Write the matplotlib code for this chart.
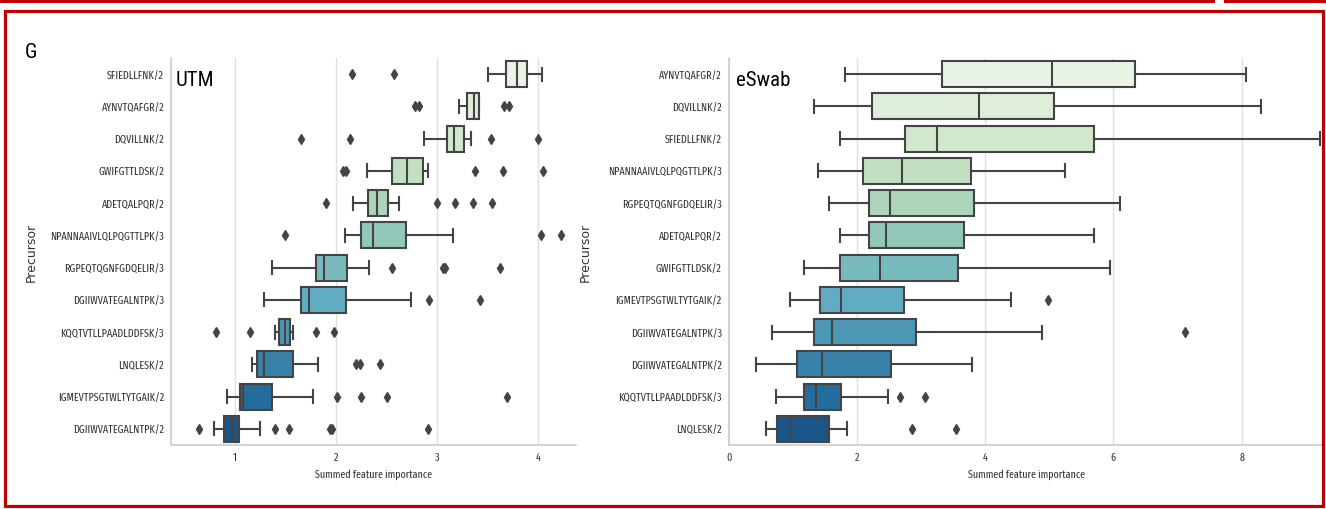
import numpy as np
import matplotlib
matplotlib.use('Agg')
import matplotlib.pyplot as plt
from matplotlib import font_manager
from matplotlib.patches import Rectangle
import seaborn as sns

# ---- UTM: per-precursor box statistics (summed feature importance) ----
utm_labels = ['SFIEDLLFNK/2', 'AYNVTQAFGR/2', 'DQVILLNK/2', 'GWIFGTTLDSK/2',
              'ADETQALPQR/2', 'NPANNAAIVLQLPQGTTLPK/3', 'RGPEQTQGNFGDQELIR/3',
              'DGIIWVATEGALNTPK/3', 'KQQTVTLLPAADLDDFSK/3', 'LNQLESK/2',
              'IGMEVTPSGTWLTYTGAIK/2', 'DGIIWVATEGALNTPK/2']
utm_whislo = [3.51, 3.22, 2.87, 2.31, 2.17, 2.09, 1.37, 1.29, 1.40, 1.17, 0.92, 0.79]
utm_q1 = [3.69, 3.30, 3.10, 2.56, 2.32, 2.25, 1.80, 1.65, 1.44, 1.22, 1.05, 0.89]
utm_med = [3.80, 3.37, 3.17, 2.70, 2.41, 2.37, 1.88, 1.73, 1.50, 1.29, 1.08, 0.97]
utm_q3 = [3.89, 3.42, 3.27, 2.86, 2.52, 2.69, 2.11, 2.10, 1.54, 1.57, 1.37, 1.04]
utm_whishi = [4.04, 3.42, 3.34, 2.91, 2.63, 3.16, 2.33, 2.74, 1.57, 1.82, 1.77, 1.25]
utm_fliers = [
    [2.16, 2.58],
    [2.78, 2.82, 3.67, 3.72],
    [1.65, 2.14, 3.54, 4.00],
    [2.07, 2.10, 3.38, 3.66, 4.05],
    [1.90, 3.00, 3.18, 3.36, 3.55],
    [1.50, 4.03, 4.23],
    [2.56, 3.06, 3.08, 3.63],
    [2.92, 3.43],
    [0.81, 1.15, 1.80, 1.98],
    [2.20, 2.24, 2.44],
    [2.01, 2.25, 2.51, 3.70],
    [0.64, 1.40, 1.53, 1.94, 1.96, 2.91],
]

# ---- eSwab ----
esw_labels = ['AYNVTQAFGR/2', 'DQVILLNK/2', 'SFIEDLLFNK/2', 'NPANNAAIVLQLPQGTTLPK/3',
              'RGPEQTQGNFGDQELIR/3', 'ADETQALPQR/2', 'GWIFGTTLDSK/2',
              'IGMEVTPSGTWLTYTGAIK/2', 'DGIIWVATEGALNTPK/3', 'DGIIWVATEGALNTPK/2',
              'KQQTVTLLPAADLDDFSK/3', 'LNQLESK/2']
esw_whislo = [1.82, 1.33, 1.74, 1.39, 1.56, 1.73, 1.18, 0.95, 0.67, 0.43, 0.74, 0.59]
esw_q1 = [3.33, 2.23, 2.75, 2.10, 2.19, 2.19, 1.73, 1.43, 1.33, 1.07, 1.17, 0.76]
esw_med = [5.04, 3.90, 3.25, 2.71, 2.52, 2.46, 2.36, 1.76, 1.61, 1.45, 1.36, 0.96]
esw_q3 = [6.33, 5.07, 5.70, 3.78, 3.82, 3.67, 3.57, 2.73, 2.93, 2.54, 1.76, 1.56]
esw_whishi = [8.07, 8.30, 9.22, 5.25, 6.10, 5.70, 5.95, 4.40, 4.89, 3.79, 2.49, 1.84]
esw_fliers = [[], [], [], [], [], [], [], [4.98], [7.11], [], [2.68, 3.07], [2.86, 3.54]]

W, H = 1326, 510

# narrow sans for horizontal labels (first one installed wins)
installed = {f.name for f in font_manager.fontManager.ttflist}
FONT, LBL = 'Roboto Condensed', 6.5
for name, size in [('Fira Sans Extra Condensed', 7.85), ('Barlow Condensed', 7.8),
                   ('Sofia Sans Extra Condensed', 7.8), ('Roboto Condensed', 6.5)]:
    if name in installed:
        FONT, LBL = name, size
        break
plt.rcParams['font.family'] = [FONT, 'DejaVu Sans']
TAG_FONT = ['Roboto Condensed', 'DejaVu Sans']
TAG = 15

colors = [sns.desaturate(c, 0.75) for c in sns.color_palette('GnBu', 12)]
EDGE = '#444444'
GRID = '#e0e0e0'
TXT = '#333333'


def px_axes(x0, y0, x1, y1):
    # pixel box (top-left origin) -> figure-fraction axes
    return fig.add_axes([x0 / W, 1 - y1 / H, (x1 - x0) / W, (y1 - y0) / H])


def draw_panel(ax, labels, whislo, q1, med, q3, whishi, fliers, xlim, xticks, tag):
    stats = [dict(whislo=a, q1=b, med=c, q3=d, whishi=e, fliers=f)
             for a, b, c, d, e, f in zip(whislo, q1, med, q3, whishi, fliers)]
    pos = np.arange(len(labels))
    art = ax.bxp(stats, positions=pos, widths=0.8, orientation='horizontal',
                 patch_artist=True, showfliers=True,
                 boxprops=dict(edgecolor=EDGE, linewidth=1.5),
                 medianprops=dict(color=EDGE, linewidth=1.5),
                 whiskerprops=dict(color=EDGE, linewidth=1.5),
                 capprops=dict(color=EDGE, linewidth=1.5),
                 flierprops=dict(marker='d', markersize=5, markerfacecolor=EDGE,
                                 markeredgecolor=EDGE, linestyle='none'))
    for box, c in zip(art['boxes'], colors):
        box.set_facecolor(c)
    ax.set_ylim(len(labels) - 0.5, -0.5)
    ax.set_xlim(*xlim)
    ax.set_yticks(pos)
    ax.set_yticklabels(labels)
    ax.set_xticks(xticks)
    ax.set_xticklabels([str(t) for t in xticks])
    ax.tick_params(length=0, labelsize=LBL, colors=TXT, pad=5)
    ax.grid(axis='x', color=GRID, lw=1)
    ax.set_axisbelow(True)
    for s in ('top', 'right'):
        ax.spines[s].set_visible(False)
    for s in ('left', 'bottom'):
        ax.spines[s].set_color('#cccccc')
        ax.spines[s].set_linewidth(1.2)
    ax.set_xlabel('Summed feature importance', fontsize=LBL, color=TXT, labelpad=4)
    # vertical label keeps normal-width glyphs
    ax.set_ylabel('Precursor', fontsize=9, color=TXT, family='DejaVu Sans')
    ax.text(0.012, 0.945, tag, transform=ax.transAxes, fontsize=TAG, family=TAG_FONT,
            va='center', ha='left', color='black')


fig = plt.figure(figsize=(W / 100, H / 100), dpi=100)
fig.patch.set_facecolor('white')

ax1 = px_axes(171, 59, 576, 446)
draw_panel(ax1, utm_labels, utm_whislo, utm_q1, utm_med, utm_q3, utm_whishi,
           utm_fliers, (0.365, 4.38), [1, 2, 3, 4], 'UTM')
ax1.yaxis.set_label_coords(-0.33, 0.5)

ax2 = px_axes(728.6, 59, 1325, 446)
draw_panel(ax2, esw_labels, esw_whislo, esw_q1, esw_med, esw_q3, esw_whishi,
           esw_fliers, (0, 9.3), [0, 2, 4, 6, 8], 'eSwab')
ax2.yaxis.set_label_coords(-0.229, 0.5)

fig.text(25 / W, 1 - 52 / H, 'G', fontsize=15, family=TAG_FONT, va='center', ha='left')

# slide frame and top bars
red = '#c00000'
fig.patches.append(Rectangle((0, 1 - 4 / H), 1215 / W, 4 / H, transform=fig.transFigure,
                             facecolor=red, edgecolor='none', zorder=10))
fig.patches.append(Rectangle((1224 / W, 1 - 4 / H), (W - 1224) / W, 4 / H,
                             transform=fig.transFigure, facecolor=red,
                             edgecolor='none', zorder=10))
fig.patches.append(Rectangle((5 / W, 1 - 507 / H), (1323 - 5) / W, (507 - 12) / H,
                             transform=fig.transFigure, facecolor='none',
                             edgecolor=red, linewidth=2.3, zorder=10))

fig.savefig('out.png', dpi=100)
